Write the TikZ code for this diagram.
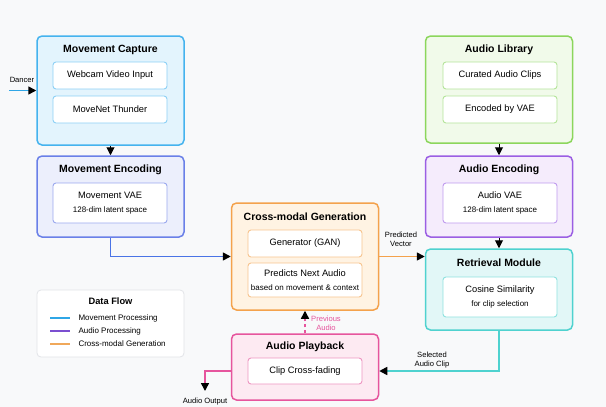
\documentclass[tikz,border=0pt]{standalone}
\usepackage{fontspec}
\setmainfont{Liberation Sans}
\usetikzlibrary{arrows.meta,calc}
\definecolor{bg}{HTML}{F8F9FA}
\definecolor{capB}{HTML}{45B3EE}\definecolor{capF}{HTML}{E3F4FD}\definecolor{capI}{HTML}{8DD0F5}
\definecolor{encB}{HTML}{6A80E8}\definecolor{encF}{HTML}{ECEFFC}\definecolor{encI}{HTML}{9AA8EE}
\definecolor{cmB}{HTML}{F4A24C}\definecolor{cmF}{HTML}{FFF3E3}\definecolor{cmI}{HTML}{F7C48E}
\definecolor{libB}{HTML}{8CD65C}\definecolor{libF}{HTML}{F1FAEA}\definecolor{libI}{HTML}{B4E49A}
\definecolor{aeB}{HTML}{9B5FE3}\definecolor{aeF}{HTML}{F5ECFC}\definecolor{aeI}{HTML}{BF9AEE}
\definecolor{retB}{HTML}{4FD2CF}\definecolor{retF}{HTML}{E2F7F7}\definecolor{retI}{HTML}{8FE2DF}
\definecolor{pbB}{HTML}{E6559D}\definecolor{pbF}{HTML}{FDEAF2}\definecolor{pbI}{HTML}{EE95C1}
\definecolor{movLine}{HTML}{4A74E6}
\definecolor{legBlue}{HTML}{2FA6E6}\definecolor{legPurple}{HTML}{7B4FD0}\definecolor{legOrange}{HTML}{F0A85A}
\definecolor{legB}{HTML}{E2E4E8}
\tikzset{
  outer/.style={draw, line width=1.5pt, rounded corners=5pt, minimum width=147pt, inner sep=0pt},
  innerbox/.style={draw, line width=0.9pt, fill=white, rounded corners=3pt, minimum width=114pt, align=center, font=\fontsize{9.3}{11}\selectfont, inner sep=0pt},
  ttl/.style={font=\bfseries\fontsize{10.5}{12}\selectfont},
  lbl/.style={font=\fontsize{7.6}{9}\selectfont, align=center},
  small/.style={font=\fontsize{8}{9.5}\selectfont},
  tip/.style={-{Triangle[length=8pt,width=8pt,fill=black,color=black]}},
  conn/.style={tip, line width=1.6pt},
}
\begin{document}
\begin{tikzpicture}[x=1pt,y=-1pt]
\fill[bg] (0,0) rectangle (606,407);
\useasboundingbox (0,0) rectangle (606,407);

% Movement Capture
\node[outer, draw=capB, fill=capF, minimum height=109pt] (cap) at (110.5,90.5) {};
\node[ttl] (capT) at (110.5,49.5) {Movement Capture};
\node[innerbox, draw=capI, minimum height=27pt] (web) at (110,75.5) {Webcam Video Input};
\node[innerbox, draw=capI, minimum height=27pt] (mnt) at (110,109.5) {MoveNet Thunder};

% Movement Encoding
\node[outer, draw=encB, fill=encF, minimum height=81pt] (enc) at (110.5,196.5) {};
\node[ttl] (encT) at (110.5,170) {Movement Encoding};
\node[innerbox, draw=encI, minimum height=40pt] (mvae) at (110,203) {Movement VAE\\[3pt]{\fontsize{8}{9}\selectfont 128-dim latent space}};

% Cross-modal Generation
\node[outer, draw=cmB, fill=cmF, minimum height=107pt] (cm) at (305,256.5) {};
\node[ttl] (cmT) at (305,216.5) {Cross-modal Generation};
\node[innerbox, draw=cmI, minimum height=27pt] (gan) at (305,243.5) {Generator (GAN)};
\node[innerbox, draw=cmI, minimum height=34pt] (pred) at (305,280) {Predicts Next Audio\\[3pt]{\fontsize{8}{9}\selectfont based on movement \& context}};

% Audio Library
\node[outer, draw=libB, fill=libF, minimum height=107pt] (lib) at (499,89.5) {};
\node[ttl] (libT) at (499,49.5) {Audio Library};
\node[innerbox, draw=libI, minimum height=27pt] (cur) at (500,75.5) {Curated Audio Clips};
\node[innerbox, draw=libI, minimum height=27pt] (evae) at (500,109.5) {Encoded by VAE};

% Audio Encoding
\node[outer, draw=aeB, fill=aeF, minimum height=81pt] (ae) at (499,196.5) {};
\node[ttl] (aeT) at (499,170) {Audio Encoding};
\node[innerbox, draw=aeI, minimum height=40pt] (avae) at (500,203) {Audio VAE\\[3pt]{\fontsize{8}{9}\selectfont 128-dim latent space}};

% Retrieval Module
\node[outer, draw=retB, fill=retF, minimum height=81pt] (ret) at (499,289.5) {};
\node[ttl] (retT) at (499,263) {Retrieval Module};
\node[innerbox, draw=retI, minimum height=40pt] (cos) at (500,297) {Cosine Similarity\\[3pt]{\fontsize{8}{9}\selectfont for clip selection}};

% Audio Playback
\node[outer, draw=pbB, fill=pbF, minimum height=66pt] (pb) at (305,367) {};
\node[ttl] (pbT) at (305,347) {Audio Playback};
\node[innerbox, draw=pbI, minimum height=26pt] (cf) at (305,371) {Clip Cross-fading};

% Legend
\node[draw=legB, fill=white, line width=0.8pt, rounded corners=4pt, minimum width=147pt, minimum height=67pt, inner sep=0pt] (leg) at (110.5,323.5) {};
\node[font=\bfseries\fontsize{9.3}{11}\selectfont] (legT) at (110.5,301) {Data Flow};
\coordinate (l1a) at (50,318); \coordinate (l1b) at (70,318);
\coordinate (l2a) at (50,331); \coordinate (l2b) at (70,331);
\coordinate (l3a) at (50,344); \coordinate (l3b) at (70,344);
\draw[legBlue, line width=1.2pt] (l1a) -- (l1b);
\draw[legPurple, line width=1.2pt] (l2a) -- (l2b);
\draw[legOrange, line width=1.2pt] (l3a) -- (l3b);
\node[small, anchor=west] (lt1) at (75,318) {Movement Processing};
\node[small, anchor=west] (lt2) at (75,331) {Audio Processing};
\node[small, anchor=west] (lt3) at (75,344) {Cross-modal Generation};

% Connectors
\coordinate (dancer) at (9,90.5);
\draw[conn, legBlue] (dancer) -- (cap.west);
\node[lbl] (dancerL) at (22,80) {Dancer};

\draw[conn, black, line width=1pt] (cap.south) -- (enc.north);
\draw[conn, black, line width=1pt] (lib.south) -- (ae.north);
\draw[conn, black, line width=1pt] (ae.south) -- (ret.north);

\draw[conn, movLine] (enc.south) |- (cm.west);
\draw[conn, cmB] (cm.east) -- (cm.east -| ret.west);
\node[lbl] (predL) at (401,239) {Predicted\\Vector};

\draw[conn, retB] (ret.south) |- ([yshift=-4pt]pb.east);
\node[lbl] (selL) at (432,360) {Selected\\Audio Clip};

\coordinate (aout) at (205,391);
\draw[conn, pbB] ([yshift=-4pt]pb.west) -| (aout);
\node[lbl] (aoutL) at (205,402) {Audio Output};

\draw[conn, pbB, dashed, line width=1.4pt] (pb.north) -- (cm.south);
\node[lbl, text=pbB] (prevL) at (326,323) {Previous\\Audio};
\end{tikzpicture}
\end{document}
